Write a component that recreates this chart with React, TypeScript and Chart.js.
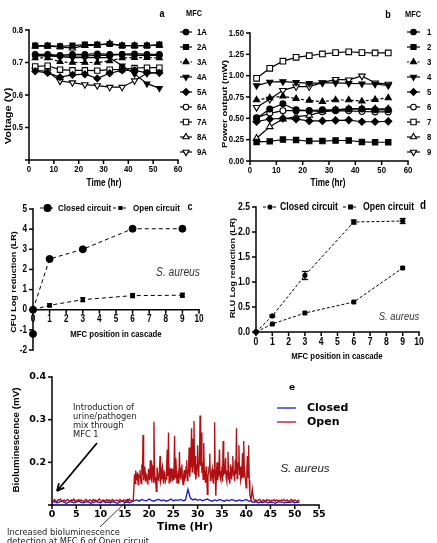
import React, { useEffect, useRef } from 'react';
import { Chart, registerables } from 'chart.js';
import { drawPoint } from 'chart.js/helpers';
Chart.register(...registerables);

const PAGE_W = 437;
const PAGE_H = 543;
const SANS = "'Liberation Sans', Arial, Helvetica, sans-serif";
const DEJAVU = "'DejaVu Sans', Verdana, sans-serif";
const SX = 0.82;

// ---------- Panel a : voltage ----------
const aTime = [2.5, 7.5, 12.5, 17.5, 22.5, 27.5, 32.5, 37.5, 42.5, 47.5, 52.5];
const aNames = ['1A', '2A', '3A', '4A', '5A', '6A', '7A', '8A', '9A'];
const a1A = [0.725, 0.725, 0.722, 0.725, 0.725, 0.727, 0.725, 0.725, 0.727, 0.725, 0.725];
const a2A = [0.752, 0.752, 0.750, 0.752, 0.755, 0.755, 0.757, 0.752, 0.752, 0.752, 0.755];
const a3A = [0.714, 0.714, 0.702, 0.700, 0.700, 0.700, 0.705, 0.714, 0.715, 0.715, 0.714];
const a4A = [0.720, 0.720, 0.718, 0.715, 0.715, 0.715, 0.715, 0.690, 0.665, 0.635, 0.621];
const a5A = [0.673, 0.668, 0.655, 0.662, 0.664, 0.651, 0.667, 0.676, 0.676, 0.668, 0.668];
const a6A = [0.722, 0.722, 0.720, 0.720, 0.720, 0.722, 0.722, 0.725, 0.722, 0.722, 0.722];
const a7A = [0.688, 0.690, 0.678, 0.676, 0.676, 0.675, 0.678, 0.679, 0.683, 0.684, 0.684];
const a8A = [0.750, 0.750, 0.748, 0.744, 0.752, 0.753, 0.758, 0.752, 0.752, 0.752, 0.753];
const a9A = [0.677, 0.672, 0.643, 0.638, 0.632, 0.629, 0.624, 0.624, 0.644, 0.667, 0.669];
const aSeries = [a1A, a2A, a3A, a4A, a5A, a6A, a7A, a8A, a9A];
const aYTicks = [0.4, 0.5, 0.6, 0.7, 0.8];
const aYLabels = ['', '0.5', '0.6', '0.7', '0.8'];
const timeTicks = [0, 10, 20, 30, 40, 50, 60];

// ---------- Panel b : power ----------
const bTime = [2.5, 7.5, 12.5, 17.5, 22.5, 27.5, 32.5, 37.5, 42.5, 47.5, 52.5];
const bNames = ['1', '2', '3', '4', '5', '6', '7', '8', '9'];
const b1 = [0.50, 0.61, 0.67, 0.60, 0.59, 0.60, 0.60, 0.61, 0.61, 0.60, 0.60];
const b2 = [0.223, 0.230, 0.252, 0.246, 0.234, 0.234, 0.240, 0.240, 0.223, 0.220, 0.220];
const b3 = [0.715, 0.740, 0.760, 0.730, 0.710, 0.695, 0.715, 0.715, 0.700, 0.720, 0.740];
const b4 = [0.883, 0.926, 0.930, 0.922, 0.910, 0.915, 0.915, 0.910, 0.905, 0.900, 0.885];
const b5 = [0.461, 0.492, 0.500, 0.490, 0.470, 0.470, 0.475, 0.480, 0.460, 0.460, 0.465];
const b6 = [0.508, 0.559, 0.590, 0.590, 0.590, 0.578, 0.590, 0.588, 0.580, 0.575, 0.575];
const b7 = [0.969, 1.086, 1.170, 1.215, 1.234, 1.254, 1.270, 1.280, 1.270, 1.266, 1.266];
const b8 = [0.266, 0.402, 0.492, 0.520, 0.535, 0.578, 0.600, 0.610, 0.610, 0.610, 0.610];
const b9 = [0.629, 0.723, 0.828, 0.871, 0.871, 0.918, 0.957, 0.950, 0.996, 0.915, 0.900];
const bSeries = [b1, b2, b3, b4, b5, b6, b7, b8, b9];
const bYTicks = [0, 0.25, 0.5, 0.75, 1.0, 1.25, 1.5];
const bYLabels = ['0.00', '0.25', '0.50', '0.75', '1.00', '1.25', '1.50'];

// ---------- Panel c : CFU log reduction ----------
const cPos = [0, 1, 3, 6, 9];
const cClosed = [0, 2.52, 3.0, 4.02, 4.02];
const cOpen = [0, 0.22, 0.5, 0.7, 0.72];
const cOpenErr = [0, 0.08, 0.1, 0.1, 0.1];
const cExtraX = [0];
const cExtraY = [-1.2];
const cYTicks = [-2, -1, 0, 1, 2, 3, 4, 5];
const cYLabels = ['-2', '-1', '0', '1', '2', '3', '4', '5'];
const cascTicks = [0, 1, 2, 3, 4, 5, 6, 7, 8, 9, 10];

// ---------- Panel d : RLU log reduction ----------
const dPos = [0, 1, 3, 6, 9];
const dClosed = [0, 0.32, 1.13, 2.2, 2.22];
const dClosedErr = [0, 0.02, 0.08, 0.04, 0.05];
const dOpen = [0, 0.16, 0.38, 0.6, 1.28];
const dYTicks = [0, 0.5, 1.0, 1.5, 2.0, 2.5];
const dYLabels = ['0.0', '0.5', '1.0', '1.5', '2.0', '2.5'];

// ---------- Panel e : bioluminescence ----------
// Open circuit, before the rise: t = 0 .. 16.75 h, every 0.25 h
const eRedPreStart = 0;
const eRedPreStep = 0.25;
const eRedPre = [
  0.111, 0.109, 0.113, 0.110, 0.108, 0.112, 0.111, 0.114, 0.109, 0.110,
  0.112, 0.108, 0.111, 0.113, 0.110, 0.109, 0.112, 0.110, 0.114, 0.108,
  0.111, 0.110, 0.113, 0.109, 0.112, 0.110, 0.108, 0.111, 0.113, 0.110,
  0.109, 0.112, 0.111, 0.108, 0.113, 0.110, 0.112, 0.109, 0.111, 0.114,
  0.110, 0.108, 0.112, 0.111, 0.109, 0.113, 0.110, 0.112, 0.108, 0.111,
  0.113, 0.109, 0.110, 0.112, 0.111, 0.108, 0.113, 0.110, 0.109, 0.112,
  0.111, 0.110, 0.113, 0.109, 0.112, 0.110, 0.111, 0.112,
];
// Open circuit, raised phase: t = 17 .. 41 h, every 0.125 h
const eRedMidStart = 17;
const eRedMidStep = 0.125;
const eRedMid = [
  0.172, 0.150, 0.181, 0.162, 0.160, 0.176, 0.148, 0.168, 0.165, 0.182,
  0.158, 0.150, 0.195, 0.170, 0.264, 0.158, 0.175, 0.190, 0.155, 0.172,
  0.168, 0.152, 0.150, 0.185, 0.172, 0.158, 0.205, 0.166, 0.160, 0.192,
  0.185, 0.154, 0.295, 0.170, 0.165, 0.150, 0.132, 0.188, 0.178, 0.160,
  0.158, 0.176, 0.215, 0.155, 0.162, 0.182, 0.190, 0.165, 0.150, 0.178,
  0.175, 0.156, 0.162, 0.195, 0.230, 0.168, 0.270, 0.152, 0.168, 0.186,
  0.155, 0.171, 0.185, 0.158, 0.160, 0.176, 0.262, 0.164, 0.210, 0.181,
  0.152, 0.168, 0.175, 0.150, 0.225, 0.172, 0.160, 0.186, 0.195, 0.158,
  0.148, 0.170, 0.182, 0.161, 0.165, 0.190, 0.205, 0.157, 0.170, 0.183,
  0.235, 0.166, 0.190, 0.215, 0.280, 0.178, 0.255, 0.190, 0.297, 0.172,
  0.215, 0.160, 0.175, 0.194, 0.240, 0.168, 0.185, 0.205, 0.310, 0.192,
  0.270, 0.175, 0.200, 0.160, 0.245, 0.180, 0.165, 0.152, 0.190, 0.171,
  0.125, 0.168, 0.175, 0.190, 0.220, 0.158, 0.160, 0.176, 0.185, 0.160,
  0.150, 0.182, 0.294, 0.165, 0.122, 0.176, 0.200, 0.158, 0.170, 0.185,
  0.230, 0.167, 0.160, 0.178, 0.190, 0.155, 0.250, 0.172, 0.175, 0.188,
  0.210, 0.162, 0.155, 0.180, 0.225, 0.165, 0.170, 0.150, 0.195, 0.176,
  0.160, 0.190, 0.215, 0.168, 0.180, 0.156, 0.205, 0.173, 0.280, 0.162,
  0.175, 0.198, 0.240, 0.170, 0.190, 0.158, 0.165, 0.183, 0.222, 0.166,
  0.250, 0.176, 0.170, 0.155, 0.140, 0.180, 0.215, 0.165, 0.240, 0.158,
  0.125, 0.118, 0.112,
];
// Open circuit, after the fall: t = 41.25 .. 51 h, every 0.25 h
const eRedPostStart = 41.25;
const eRedPostStep = 0.25;
const eRedPost = [
  0.138, 0.115, 0.110,
  0.112, 0.109, 0.111, 0.113, 0.110, 0.108, 0.112, 0.111, 0.109, 0.113,
  0.110, 0.112, 0.108, 0.111, 0.110, 0.113, 0.109, 0.112, 0.110, 0.111,
  0.108, 0.112, 0.110, 0.113, 0.109, 0.111, 0.112, 0.108, 0.110, 0.113,
  0.111, 0.109, 0.112, 0.110, 0.108, 0.111, 0.110,
];
// Closed circuit: t = 0 .. 51 h, every 0.5 h
const eBlueStep = 0.5;
const eBlue = [
  0.106, 0.108, 0.105, 0.107, 0.109, 0.106, 0.104, 0.107, 0.108, 0.105,
  0.107, 0.109, 0.106, 0.105, 0.108, 0.107, 0.104, 0.106, 0.108, 0.107,
  0.105, 0.109, 0.106, 0.107, 0.105, 0.108, 0.106, 0.104, 0.107, 0.109,
  0.106, 0.107, 0.105, 0.108,
  0.110, 0.112, 0.109, 0.113, 0.111, 0.110, 0.114, 0.111, 0.109, 0.112,
  0.113, 0.110, 0.112, 0.109, 0.111, 0.114, 0.110, 0.112, 0.111, 0.113,
  0.110, 0.112, 0.137,
  0.116, 0.112, 0.114, 0.111, 0.113, 0.110, 0.112, 0.114, 0.111, 0.109,
  0.112, 0.110, 0.113, 0.111, 0.109, 0.112, 0.110, 0.113, 0.111, 0.109,
  0.112, 0.110, 0.111, 0.113, 0.109, 0.110,
  0.106, 0.108, 0.105, 0.107, 0.106, 0.108, 0.105, 0.107, 0.106, 0.104,
  0.107, 0.108, 0.106, 0.105, 0.107, 0.106, 0.108, 0.105, 0.107, 0.106,
];
const eYTicks = [0.1, 0.2, 0.3, 0.4];
const eYLabels = ['', '0.2', '0.3', '0.4'];
const eXTicks = [0, 5, 10, 15, 20, 25, 30, 35, 40, 45, 50, 55];

// ---------- styles ----------
type Mk = { ps: string; rot?: number; fill: boolean; r: number; dash?: boolean };
const prismMarkers: Mk[] = [
  { ps: 'circle', fill: true, r: 2.8 },
  { ps: 'rect', fill: true, r: 3.6 },
  { ps: 'triangle', fill: true, r: 3.4, dash: true },
  { ps: 'triangle', rot: 180, fill: true, r: 3.4 },
  { ps: 'rectRot', fill: true, r: 3.4 },
  { ps: 'circle', fill: false, r: 2.8 },
  { ps: 'rect', fill: false, r: 3.8 },
  { ps: 'triangle', fill: false, r: 3.6 },
  { ps: 'triangle', rot: 180, fill: false, r: 3.6 },
];

type TOpt = {
  size: number; bold?: boolean; italic?: boolean; family?: string;
  align?: CanvasTextAlign; base?: CanvasTextBaseline; sx?: number; rot?: number; color?: string; ls?: number;
};
function txt(ctx: CanvasRenderingContext2D, s: string, x: number, y: number, o: TOpt) {
  ctx.save();
  ctx.translate(x, y);
  ctx.scale(o.sx ?? SX, 1);
  if (o.rot) ctx.rotate(o.rot);
  ctx.font = `${o.italic ? 'italic ' : ''}${o.bold === false ? 'normal' : 'bold'} ${o.size}px ${o.family ?? SANS}`;
  ctx.fillStyle = o.color ?? '#000';
  ctx.textAlign = o.align ?? 'center';
  ctx.textBaseline = o.base ?? 'middle';
  if (o.ls) (ctx as any).letterSpacing = o.ls + 'px';
  ctx.fillText(s, 0, 0);
  ctx.restore();
}

function marker(ctx: CanvasRenderingContext2D, m: Mk, x: number, y: number) {
  ctx.save();
  ctx.fillStyle = m.fill ? '#000' : '#fff';
  ctx.strokeStyle = '#000';
  ctx.lineWidth = 1.1;
  ctx.setLineDash([]);
  drawPoint(ctx, { pointStyle: m.ps as any, rotation: m.rot ?? 0, radius: m.r, borderWidth: 1.1 } as any, x, y);
  ctx.restore();
}

function seg(ctx: CanvasRenderingContext2D, x1: number, y1: number, x2: number, y2: number, lw: number, dash: number[] = [], color = '#000') {
  ctx.save();
  ctx.strokeStyle = color;
  ctx.lineWidth = lw;
  ctx.setLineDash(dash);
  ctx.beginPath();
  ctx.moveTo(x1, y1);
  ctx.lineTo(x2, y2);
  ctx.stroke();
  ctx.restore();
}

type AxCfg = {
  xTicks: number[]; xLabels: string[]; yTicks: number[]; yLabels: string[];
  xAt?: number; font: TOpt; lw?: number; tick?: number;
};
function axes(chart: any, cfg: AxCfg) {
  const ctx: CanvasRenderingContext2D = chart.ctx;
  const ca = chart.chartArea;
  const xs = chart.scales.x, ys = chart.scales.y;
  const lw = cfg.lw ?? 1.5, tk = cfg.tick ?? 4;
  const yPix = cfg.xAt !== undefined ? ys.getPixelForValue(cfg.xAt) : ca.bottom;
  ctx.save();
  ctx.strokeStyle = '#000';
  ctx.lineWidth = lw;
  ctx.lineCap = 'square';
  ctx.beginPath();
  ctx.moveTo(ca.left, ys.getPixelForValue(ys.min));
  ctx.lineTo(ca.left, ys.getPixelForValue(ys.max));
  ctx.stroke();
  ctx.beginPath();
  ctx.moveTo(xs.getPixelForValue(xs.min), yPix);
  ctx.lineTo(xs.getPixelForValue(xs.max), yPix);
  ctx.stroke();
  ctx.lineCap = 'butt';
  cfg.yTicks.forEach((v, i) => {
    const p = ys.getPixelForValue(v);
    ctx.beginPath(); ctx.moveTo(ca.left - tk, p); ctx.lineTo(ca.left, p); ctx.stroke();
    if (cfg.yLabels[i]) txt(ctx, cfg.yLabels[i], ca.left - tk - 2, p, { ...cfg.font, align: 'right' });
  });
  cfg.xTicks.forEach((v, i) => {
    const p = xs.getPixelForValue(v);
    ctx.beginPath(); ctx.moveTo(p, yPix); ctx.lineTo(p, yPix + tk); ctx.stroke();
    if (cfg.xLabels[i]) txt(ctx, String(cfg.xLabels[i]), p, yPix + tk + 1, { ...cfg.font, base: 'top' });
  });
  ctx.restore();
}

function errBars(chart: any, xsV: number[], ysV: number[], errs: number[], cap: number) {
  const ctx: CanvasRenderingContext2D = chart.ctx;
  const xs = chart.scales.x, ys = chart.scales.y;
  xsV.forEach((xv, i) => {
    if (!errs[i]) return;
    const px = xs.getPixelForValue(xv);
    const top = ys.getPixelForValue(ysV[i] + errs[i]);
    const bot = ys.getPixelForValue(ysV[i] - errs[i]);
    seg(ctx, px, top, px, bot, 1.3);
    seg(ctx, px - cap, top, px + cap, top, 1.3);
    seg(ctx, px - cap, bot, px + cap, bot, 1.3);
  });
}

function pts(xv: number[], yv: number[]) {
  return yv.map((y, i) => ({ x: xv[i], y }));
}
function stepped(start: number, step: number, yv: number[]) {
  return yv.map((y, i) => ({ x: start + i * step, y }));
}

function mk(canvas: HTMLCanvasElement, box: [number, number, number, number], xr: [number, number], yr: [number, number],
  datasets: any[], before: (c: any) => void, after: (c: any) => void) {
  return new Chart(canvas, {
    type: 'line',
    data: { datasets },
    options: {
      animation: false,
      responsive: false,
      events: [],
      layout: { padding: { left: box[0], right: PAGE_W - box[1], top: box[2], bottom: PAGE_H - box[3] } },
      plugins: { legend: { display: false }, tooltip: { enabled: false } },
      scales: {
        x: { type: 'linear', display: false, min: xr[0], max: xr[1] },
        y: { type: 'linear', display: false, min: yr[0], max: yr[1] },
      },
    } as any,
    plugins: [{ id: 'deco', beforeDatasetsDraw: before, afterDatasetsDraw: after } as any],
  });
}

function prismDatasets(xv: number[], series: number[][], scale = 1) {
  return series.map((s, i) => {
    const m = prismMarkers[i];
    return {
      data: pts(xv, s),
      borderColor: '#000',
      backgroundColor: m.fill ? '#000' : '#fff',
      borderWidth: 1.2,
      borderDash: m.dash ? [3, 2] : [],
      pointStyle: m.ps,
      pointRotation: m.rot ?? 0,
      pointRadius: m.r * scale,
      pointBorderWidth: 1.1,
      pointBorderColor: '#000',
      pointBackgroundColor: m.fill ? '#000' : '#fff',
      tension: 0,
      clip: false,
    };
  });
}

const tickFontAB: TOpt = { size: 9.5 };

function makeA(cv: HTMLCanvasElement) {
  return mk(cv, [29, 178, 30, 160], [0, 60], [0.4, 0.8], prismDatasets(aTime, aSeries),
    (c) => axes(c, { xTicks: timeTicks, xLabels: timeTicks.map(String), yTicks: aYTicks, yLabels: aYLabels, font: tickFontAB }),
    (c) => {
      const ctx = c.ctx;
      txt(ctx, 'Time (hr)', 104, 183, { size: 10 });
      txt(ctx, 'Voltage (V)', 9, 116, { size: 11, rot: -Math.PI / 2 });
      txt(ctx, 'a', 162, 14, { size: 11 });
      txt(ctx, 'MFC', 194, 14, { size: 9 });
      aNames.forEach((n, i) => {
        const y = 32 + 15 * i;
        seg(ctx, 180, y, 192, y, 1.2, prismMarkers[i].dash ? [2, 1.5] : []);
        marker(ctx, prismMarkers[i], 186, y);
        txt(ctx, n, 197, y, { size: 9.5, align: 'left' });
      });
    });
}

function makeB(cv: HTMLCanvasElement) {
  return mk(cv, [250, 408, 33, 161], [0, 60], [0, 1.5], prismDatasets(bTime, bSeries, 1.05),
    (c) => axes(c, { xTicks: timeTicks, xLabels: timeTicks.map(String), yTicks: bYTicks, yLabels: bYLabels, font: tickFontAB }),
    (c) => {
      const ctx = c.ctx;
      txt(ctx, 'Time (hr)', 328, 183, { size: 10 });
      txt(ctx, 'Power output (mW)', 225, 104, { size: 9.6, rot: -Math.PI / 2 });
      txt(ctx, 'b', 388, 15, { size: 11 });
      txt(ctx, 'MFC', 413, 15, { size: 9 });
      bNames.forEach((n, i) => {
        const y = 32 + 15 * i;
        seg(ctx, 407, y, 420, y, 1.2, prismMarkers[i].dash ? [2, 1.5] : []);
        marker(ctx, prismMarkers[i], 413.5, y);
        txt(ctx, n, 427, y, { size: 9.5, align: 'left' });
      });
    });
}

function makeC(cv: HTMLCanvasElement) {
  const ds = [
    { data: pts(cPos, cClosed), borderColor: '#000', borderWidth: 1, borderDash: [4, 3], pointStyle: 'circle', pointRadius: 3.5,
      pointBackgroundColor: '#000', pointBorderColor: '#000', tension: 0, clip: false },
    { data: pts(cPos, cOpen), borderColor: '#000', borderWidth: 1, borderDash: [4, 3], pointStyle: 'rect', pointRadius: 2.5,
      pointBackgroundColor: '#000', pointBorderColor: '#000', tension: 0, clip: false },
    { data: pts(cExtraX, cExtraY), showLine: false, pointStyle: 'circle', pointRadius: 3.5,
      pointBackgroundColor: '#000', pointBorderColor: '#000', clip: false },
  ];
  return mk(cv, [33, 199, 209, 350], [0, 10], [-2, 5], ds,
    (c) => axes(c, { xTicks: cascTicks, xLabels: cascTicks.map(String), yTicks: cYTicks, yLabels: cYLabels, xAt: 0, font: { size: 10 } }),
    (c) => {
      const ctx = c.ctx;
      errBars(c, cPos, cOpen, cOpenErr, 2.5);
      txt(ctx, 'MFC position in cascade', 116, 334, { size: 9.5 });
      txt(ctx, 'CFU Log reduction (LR)', 14, 282, { size: 9, rot: -Math.PI / 2 });
      seg(ctx, 40, 208, 55, 208, 1, [3, 2]);
      marker(ctx, { ps: 'circle', fill: true, r: 3.5 }, 47.5, 208);
      txt(ctx, 'Closed circuit', 58, 208, { size: 9.8, align: 'left' });
      seg(ctx, 113, 208, 128, 208, 1, [3, 2]);
      marker(ctx, { ps: 'rect', fill: true, r: 2.2 }, 120.5, 208);
      txt(ctx, 'Open circuit', 133, 208, { size: 9.8, align: 'left' });
      txt(ctx, 'c', 190, 207, { size: 11 });
      txt(ctx, 'S. aureus', 178, 273, { size: 12.5, bold: false, italic: true, color: '#333' });
    });
}

function makeD(cv: HTMLCanvasElement) {
  const ds = [
    { data: pts(dPos, dClosed), borderColor: '#000', borderWidth: 1, borderDash: [3, 2], pointStyle: 'circle', pointRadius: 2.2,
      pointBackgroundColor: '#000', pointBorderColor: '#000', tension: 0, clip: false },
    { data: pts(dPos, dOpen), borderColor: '#000', borderWidth: 1, borderDash: [3, 2], pointStyle: 'rect', pointRadius: 2.8,
      pointBackgroundColor: '#000', pointBorderColor: '#000', tension: 0, clip: false },
  ];
  return mk(cv, [256, 419, 207, 332], [0, 10], [0, 2.5], ds,
    (c) => axes(c, { xTicks: cascTicks, xLabels: cascTicks.map(String), yTicks: dYTicks, yLabels: dYLabels, font: { size: 10.5 } }),
    (c) => {
      const ctx = c.ctx;
      errBars(c, dPos, dClosed, dClosedErr, 3);
      txt(ctx, 'MFC position in cascade', 337, 356, { size: 9.5 });
      txt(ctx, 'RLU Log reduction (LR)', 233, 268, { size: 8.9, rot: -Math.PI / 2 });
      seg(ctx, 263, 207, 277, 207, 1, [3, 2]);
      marker(ctx, { ps: 'circle', fill: true, r: 2 }, 270, 207);
      txt(ctx, 'Closed circuit', 280, 207, { size: 10.7, align: 'left' });
      seg(ctx, 343, 207, 358, 207, 1, [3, 2]);
      marker(ctx, { ps: 'rect', fill: true, r: 2.6 }, 350.5, 207);
      txt(ctx, 'Open circuit', 363, 207, { size: 10.7, align: 'left' });
      txt(ctx, 'd', 423, 206, { size: 12 });
      txt(ctx, 'S. aureus', 399, 317, { size: 11.5, bold: false, italic: true, color: '#333' });
    });
}

function makeE(cv: HTMLCanvasElement) {
  const redData = [
    ...stepped(eRedPreStart, eRedPreStep, eRedPre),
    ...stepped(eRedMidStart, eRedMidStep, eRedMid),
    ...stepped(eRedPostStart, eRedPostStep, eRedPost),
  ];
  const ds = [
    { data: redData, borderColor: '#b01014', borderWidth: 1.35, pointRadius: 0, tension: 0 },
    { data: stepped(0, eBlueStep, eBlue), borderColor: '#1c1ccf', borderWidth: 1.35, pointRadius: 0, tension: 0 },
  ];
  const eFont: TOpt = { size: 9.5, family: DEJAVU, sx: 1 };
  return mk(cv, [52, 319, 377, 505], [0, 55], [0.1, 0.4], ds,
    (c) => axes(c, { xTicks: eXTicks, xLabels: eXTicks.map(String), yTicks: eYTicks, yLabels: eYLabels, font: eFont }),
    (c) => {
      const ctx = c.ctx;
      txt(ctx, 'Time (Hr)', 185, 527, { size: 10.5, family: DEJAVU, sx: 1 });
      txt(ctx, 'Bioluminescence (mV)', 16, 440, { size: 9.8, rot: -Math.PI / 2, sx: 1 });
      txt(ctx, 'e', 292, 388, { size: 9, family: DEJAVU, sx: 1 });
      seg(ctx, 277, 408, 296, 408, 1.3, [], '#1c1ccf');
      txt(ctx, 'Closed', 307, 408, { size: 11, family: DEJAVU, sx: 1, align: 'left' });
      seg(ctx, 277, 422, 296, 422, 1.3, [], '#b01014');
      txt(ctx, 'Open', 307, 422, { size: 11, family: DEJAVU, sx: 1, align: 'left' });
      txt(ctx, 'S. aureus', 305, 469, { size: 11.5, bold: false, italic: true, sx: 1, color: '#222' });
      const ann: TOpt = { size: 8.3, bold: false, family: DEJAVU, sx: 1, align: 'left', color: '#222' };
      txt(ctx, 'Introduction of', 73, 408, ann);
      txt(ctx, 'urine/pathogen', 73, 417, ann);
      txt(ctx, 'mix through', 73, 426, ann);
      txt(ctx, 'MFC 1', 73, 435, ann);
      txt(ctx, 'Increased bioluminescence', 7, 533, ann);
      txt(ctx, 'detection at MFC 6 of Open circuit', 7, 542, ann);
      seg(ctx, 97, 443, 57, 491, 1.8);
      const ang = Math.atan2(491 - 443, 57 - 97);
      const L = 8;
      seg(ctx, 57, 491, 57 - L * Math.cos(ang - 0.45), 491 - L * Math.sin(ang - 0.45), 1.8);
      seg(ctx, 57, 491, 57 - L * Math.cos(ang + 0.45), 491 - L * Math.sin(ang + 0.45), 1.8);
      seg(ctx, 100, 527, 130, 498, 0.8);
    });
}

export default function App() {
  const r0 = useRef<HTMLCanvasElement>(null);
  const r1 = useRef<HTMLCanvasElement>(null);
  const r2 = useRef<HTMLCanvasElement>(null);
  const r3 = useRef<HTMLCanvasElement>(null);
  const r4 = useRef<HTMLCanvasElement>(null);
  useEffect(() => {
    const charts = [
      makeA(r0.current!), makeB(r1.current!), makeC(r2.current!), makeD(r3.current!), makeE(r4.current!),
    ];
    return () => charts.forEach((c) => c.destroy());
  }, []);
  const st: React.CSSProperties = { position: 'absolute', left: 0, top: 0, width: PAGE_W, height: PAGE_H };
  return (
    <div style={{ position: 'absolute', left: 0, top: 0, width: PAGE_W, height: PAGE_H, background: '#fff', overflow: 'hidden' }}>
      <canvas ref={r0} width={PAGE_W} height={PAGE_H} style={st} />
      <canvas ref={r1} width={PAGE_W} height={PAGE_H} style={st} />
      <canvas ref={r2} width={PAGE_W} height={PAGE_H} style={st} />
      <canvas ref={r3} width={PAGE_W} height={PAGE_H} style={st} />
      <canvas ref={r4} width={PAGE_W} height={PAGE_H} style={st} />
    </div>
  );
}
